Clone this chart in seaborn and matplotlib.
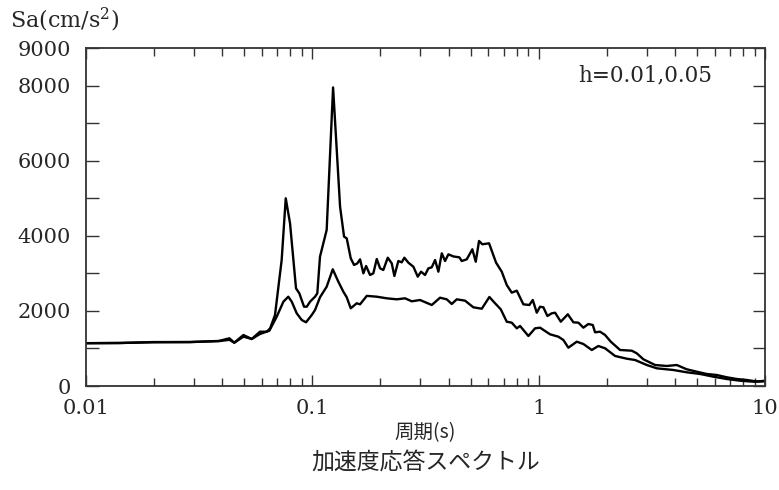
import pandas as pd
import seaborn as sns
import matplotlib.pyplot as plt
from matplotlib.ticker import FixedLocator, LogLocator, FuncFormatter, NullFormatter

# 加速度応答スペクトル h=0.01 (上側の線)
period_h001 = [0.0100, 0.0141, 0.0198, 0.0288, 0.0387, 0.0430, 0.0452, 0.0496, 0.0540,
               0.0587, 0.0629, 0.0651, 0.0684, 0.0732, 0.0763, 0.0797, 0.0847, 0.0876,
               0.0919, 0.0945, 0.0977, 0.1028, 0.1052, 0.1081, 0.1157, 0.1235, 0.1326,
               0.1381, 0.1419, 0.1478, 0.1529, 0.1581, 0.1625, 0.1681, 0.1728, 0.1799,
               0.1860, 0.1926, 0.1992, 0.2059, 0.2154, 0.2243, 0.2304, 0.2399, 0.2483,
               0.2550, 0.2656, 0.2795, 0.2923, 0.3022, 0.3148, 0.3256, 0.3370, 0.3486,
               0.3605, 0.3732, 0.3859, 0.3991, 0.4199, 0.4462, 0.4573, 0.4811, 0.5093,
               0.5272, 0.5452, 0.5639, 0.6037, 0.6483, 0.6869, 0.7228, 0.7605, 0.8003,
               0.8558, 0.9097, 0.9417, 0.9808, 1.0144, 1.0491, 1.0926, 1.1428, 1.1818,
               1.2525, 1.3450, 1.4240, 1.4983, 1.5759, 1.6580, 1.7342, 1.7751, 1.8678,
               1.9652, 2.0824, 2.2894, 2.5790, 2.7136, 2.9013, 3.2689, 3.6823, 4.0766,
               4.5122, 4.9949, 5.5299, 6.1235, 6.7810, 7.5078, 8.3138, 9.2000, 10.000]
sa_h001 = [1140, 1145, 1170, 1170, 1200, 1270, 1153, 1358, 1252,
           1446, 1446, 1535, 1890, 3355, 4998, 4332, 2600, 2468,
           2112, 2112, 2245, 2378, 2468, 3443, 4154, 7950, 4775,
           3977, 3932, 3400, 3222, 3266, 3373, 3000, 3195, 2956,
           3000, 3382, 3133, 3089, 3416, 3266, 2929, 3328, 3293,
           3416, 3284, 3177, 2911, 3044, 2956, 3133, 3160, 3355,
           3044, 3533, 3328, 3506, 3450, 3426, 3328, 3373, 3640,
           3310, 3861, 3773, 3800, 3284, 3044, 2689, 2485, 2538,
           2175, 2157, 2290, 1952, 2112, 2095, 1864, 1936, 1952,
           1712, 1909, 1696, 1686, 1553, 1651, 1624, 1430, 1446,
           1358, 1180, 959, 940, 870, 711, 559, 533, 559,
           445, 381, 320, 293, 232, 186, 160, 120, 140]

# h=0.05 (下側の線)
period_h005 = [0.0100, 0.0141, 0.0198, 0.0288, 0.0387, 0.0430, 0.0452, 0.0496, 0.0540,
               0.0587, 0.0646, 0.0696, 0.0745, 0.0783, 0.0811, 0.0853, 0.0898, 0.0938,
               0.0994, 0.1028, 0.1081, 0.1157, 0.1231, 0.1303, 0.1371, 0.1419, 0.1478,
               0.1571, 0.1625, 0.1740, 0.1926, 0.2132, 0.2360, 0.2568, 0.2750, 0.2991,
               0.3370, 0.3667, 0.3926, 0.4130, 0.4346, 0.4729, 0.5145, 0.5606, 0.6057,
               0.6418, 0.6800, 0.7228, 0.7605, 0.8003, 0.8276, 0.9008, 0.9641, 1.0144,
               1.1229, 1.2222, 1.2859, 1.3526, 1.4735, 1.5759, 1.7166, 1.8354, 1.9652,
               2.1760, 2.4510, 2.6669, 3.0049, 3.3255, 3.9373, 4.5122, 5.1676, 5.9156,
               6.7810, 7.7625, 8.8857, 10.000]
sa_h005 = [1140, 1145, 1165, 1170, 1195, 1230, 1153, 1313, 1252,
           1385, 1473, 1846, 2245, 2378, 2245, 1936, 1757, 1696,
           1890, 2024, 2362, 2644, 3107, 2777, 2511, 2362, 2069,
           2202, 2175, 2400, 2378, 2335, 2308, 2335, 2255, 2290,
           2157, 2351, 2308, 2184, 2308, 2272, 2095, 2058, 2370,
           2202, 2042, 1712, 1686, 1536, 1598, 1331, 1536, 1553,
           1376, 1313, 1225, 1020, 1180, 1118, 959, 1065, 1004,
           799, 727, 692, 559, 471, 426, 365, 320, 248,
           186, 141, 115, 125]

y_labeled = [0, 2000, 4000, 6000, 8000, 9000]
x_labels = {0.01: "0.01", 0.1: "0.1", 1: "1", 10: "10"}

df = pd.concat([
    pd.DataFrame({"period": period_h001, "sa": sa_h001, "h": "0.01"}),
    pd.DataFrame({"period": period_h005, "sa": sa_h005, "h": "0.05"}),
])

sns.set_style("ticks")
plt.rcParams["font.family"] = ["DejaVu Serif", "Noto Sans CJK JP"]
plt.rcParams["mathtext.fontset"] = "dejavuserif"

fig = plt.figure(figsize=(7.79, 4.90), dpi=100)
ax = fig.add_axes([86 / 779, 1 - 386 / 490, (765 - 86) / 779, (386 - 48) / 490])

sns.lineplot(data=df, x="period", y="sa", hue="h", palette=["black", "black"],
             estimator=None, linewidth=1.7, legend=False, ax=ax)

ax.set_xscale("log")
ax.set_xlim(0.01, 10)
ax.set_ylim(0, 9000)
ax.set_xlabel("")
ax.set_ylabel("")

ax.yaxis.set_major_locator(FixedLocator(range(0, 9001, 1000)))
ax.yaxis.set_major_formatter(FuncFormatter(lambda v, p: str(int(v)) if int(v) in y_labeled else ""))
ax.xaxis.set_major_locator(LogLocator(base=10))
ax.xaxis.set_minor_locator(LogLocator(base=10, subs=range(2, 10)))
ax.xaxis.set_major_formatter(FuncFormatter(lambda v, p: x_labels.get(round(v, 3), "")))
ax.xaxis.set_minor_formatter(NullFormatter())

ax.tick_params(which="both", direction="in", top=True, right=True, color="#333333")
ax.tick_params(axis="y", which="major", length=9, width=1, labelsize=15, pad=11)
ax.tick_params(axis="x", which="major", length=8, width=1, labelsize=15, pad=9)
ax.tick_params(axis="x", which="minor", length=6, width=1)
for s in ax.spines.values():
    s.set_linewidth(1.3)
    s.set_color("#333333")

ax.text(578 / 779, 1 - 75 / 490, "h=0.01,0.05", transform=fig.transFigure,
        fontsize=15.5, ha="left", va="center")
fig.text(10 / 779, 1 - 20 / 490, "Sa(cm/s$^2$)", fontsize=16, ha="left", va="center")
fig.text(425.5 / 779, 1 - 433 / 490, "周期(s)", fontsize=14,
         family=["Noto Sans CJK JP", "DejaVu Serif"], ha="center", va="center")
fig.text(425.5 / 779, 1 - 463 / 490, "加速度応答スペクトル", fontsize=16.5,
         family=["Noto Sans CJK JP"], ha="center", va="center")

fig.savefig("out.png", dpi=100)
